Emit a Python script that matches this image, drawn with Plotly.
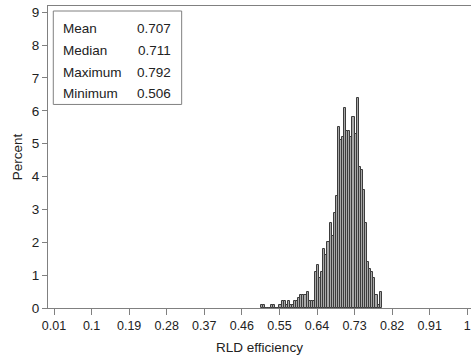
import plotly.graph_objects as go

# Lower edges of the 0.005-wide bins
bin_start = [0.505, 0.510, 0.515, 0.520, 0.525, 0.530, 0.535, 0.540, 0.545, 0.550,
             0.555, 0.560, 0.565, 0.570, 0.575, 0.580, 0.585, 0.590, 0.595, 0.600,
             0.605, 0.610, 0.615, 0.620, 0.625, 0.630, 0.635, 0.640, 0.645, 0.650,
             0.655, 0.660, 0.665, 0.670, 0.675, 0.680, 0.685, 0.690, 0.695, 0.700,
             0.705, 0.710, 0.715, 0.720, 0.725, 0.730, 0.735, 0.740, 0.745, 0.750,
             0.755, 0.760, 0.765, 0.770, 0.775, 0.780, 0.785, 0.790]
bin_width = 0.005
percent = [0.1, 0.1, 0.0, 0.0, 0.0, 0.1, 0.1, 0.0, 0.0, 0.1,
           0.2, 0.2, 0.1, 0.2, 0.1, 0.1, 0.2, 0.2, 0.3, 0.4,
           0.4, 0.4, 0.5, 0.2, 0.2, 0.2, 1.1, 1.3, 0.9, 1.1,
           1.8, 1.6, 2.0, 2.6, 2.2, 2.9, 3.4, 5.5, 5.1, 5.2,
           6.1, 5.4, 5.4, 5.2, 5.8, 5.3, 6.4, 4.3, 4.2, 3.6,
           2.6, 1.4, 1.2, 1.1, 0.9, 0.4, 0.1, 0.5]

x_ticks = [0.01, 0.1, 0.19, 0.28, 0.37, 0.46, 0.55, 0.64, 0.73, 0.82, 0.91, 1]
x_tick_labels = ["0.01", "0.1", "0.19", "0.28", "0.37", "0.46", "0.55", "0.64", "0.73", "0.82", "0.91", "1"]
y_ticks = [0, 1, 2, 3, 4, 5, 6, 7, 8, 9]

stat_names = ["Mean", "Median", "Maximum", "Minimum"]
stat_values = ["0.707", "0.711", "0.792", "0.506"]

FONT = "Liberation Sans, Arial, sans-serif"
TXT = "#222222"
AX = "#808080"

fig = go.Figure()
fig.add_trace(go.Bar(
    x=bin_start, y=percent, width=bin_width, offset=0,
    marker=dict(color="#a9a9a9", line=dict(color="#3c3c3c", width=1)),
    showlegend=False,
))

fig.update_layout(
    width=471, height=364,
    margin=dict(l=48, r=0, t=6, b=56),
    paper_bgcolor="white", plot_bgcolor="white",
    font=dict(family=FONT, size=12, color=TXT),
    bargap=0,
    xaxis=dict(
        range=[-0.0044, 1.0089], tickmode="array", tickvals=x_ticks, ticktext=x_tick_labels,
        showgrid=False, zeroline=False, showline=True, linecolor=AX, linewidth=1, mirror=True,
        ticks="outside", ticklen=6, tickcolor=AX, tickfont=dict(size=12.5, color=TXT),
        automargin=False,
        title=dict(text="RLD efficiency", font=dict(size=13.5, color=TXT), standoff=10),
    ),
    yaxis=dict(
        range=[0, 9.19], tickmode="array", tickvals=y_ticks,
        showgrid=False, zeroline=False, showline=True, linecolor=AX, linewidth=1,
        ticks="outside", ticklen=5, tickcolor=AX, tickfont=dict(size=13.5, color=TXT),
        automargin=False,
        title=dict(text="Percent", font=dict(size=13.5, color=TXT), standoff=6),
    ),
)

# Inset box with summary statistics
fig.add_shape(type="rect", xref="paper", yref="paper",
              x0=0.0125, x1=0.316, y0=0.674, y1=0.9834,
              line=dict(color=AX, width=1), fillcolor="white")
row_y = [0.926, 0.852, 0.780, 0.710]
for name, val, yy in zip(stat_names, stat_values, row_y):
    fig.add_annotation(xref="paper", yref="paper", x=0.0307, y=yy, text=name,
                       showarrow=False, xanchor="left", yanchor="middle",
                       font=dict(size=13.5, color=TXT))
    fig.add_annotation(xref="paper", yref="paper", x=0.296, y=yy, text=val,
                       showarrow=False, xanchor="right", yanchor="middle",
                       font=dict(size=13.5, color=TXT))

fig.write_html(
    "out.html",
    config={"displayModeBar": False},
    post_script="document.body.style.margin='0';document.body.style.overflow='hidden';",
)
